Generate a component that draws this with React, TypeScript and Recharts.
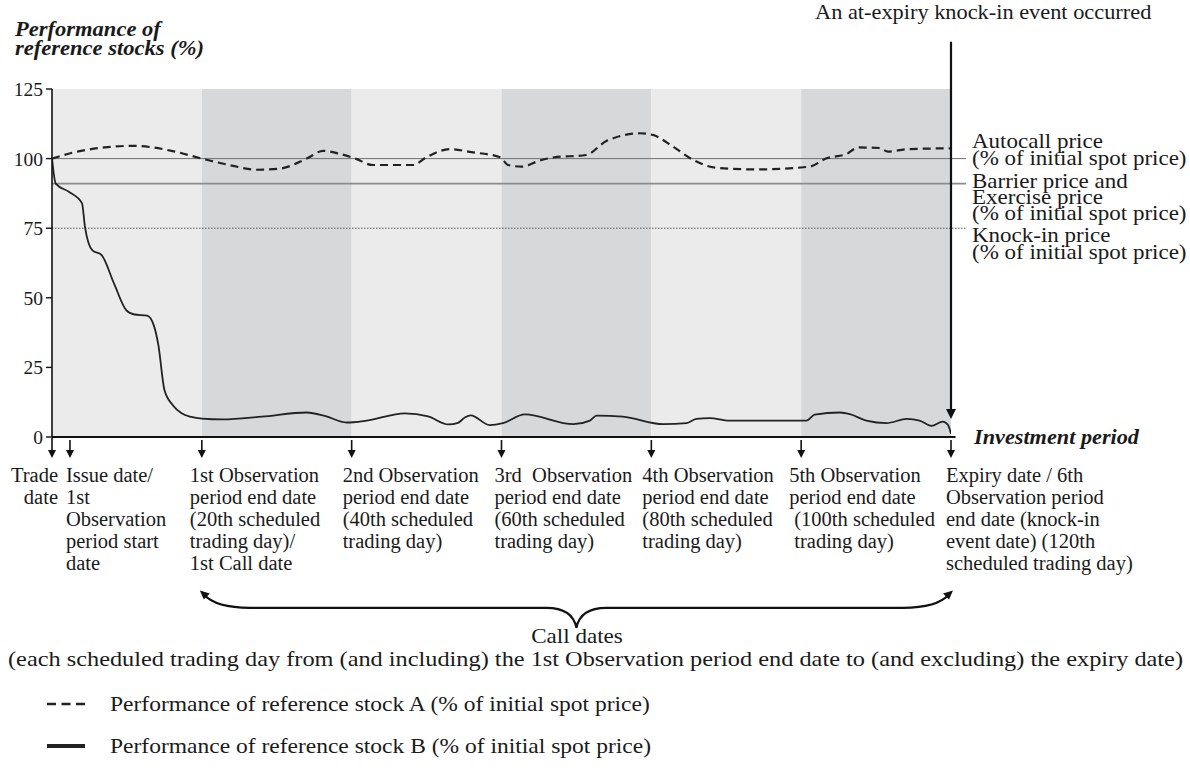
import React from 'react';
import { LineChart, Line, XAxis, YAxis, ReferenceArea, ReferenceLine } from 'recharts';

const FONT = '"Liberation Serif", "Times New Roman", serif';
const INK = '#1a1a1a';

// ---- data ----
const stockADays = [0, 3.7, 7, 10.8, 13.5, 16.1, 20.6, 24, 27.3, 30.4, 34, 36.2, 38.4, 40.5, 42.8, 48.2, 50, 53.1, 56, 59.8, 60.9, 62.7, 65.1, 66.9, 71.3, 74, 78.5, 80.2, 82.9, 85.6, 88.7, 94, 101.1, 103.4, 106.1, 107.6, 110.5, 111.6, 114.1, 120];
const stockAPerf = [100, 102.7, 104, 104.6, 104, 102.7, 99.6, 97.5, 96, 96.4, 100, 102.8, 101.7, 100, 97.7, 97.7, 100.5, 103.4, 102.3, 100.5, 97.7, 97.1, 99.3, 100.4, 101.3, 106.3, 109.1, 108.5, 104.3, 99.5, 96.7, 96.1, 97.1, 100.1, 101.7, 104, 103.8, 102.5, 103.4, 103.7];

const stockBDays = [0, 0.5, 2.3, 4.0, 4.4, 5.4, 6.6, 8.3, 9.9, 11.0, 12.7, 13.6, 14.2, 15.0, 16.1, 17.3, 18.6, 20, 22.8, 28, 34, 36.5, 39.3, 42, 47.1, 50.2, 52.9, 54.2, 55.1, 55.9, 58.4, 60.2, 63.1, 69.6, 71.8, 72.7, 76.2, 81.6, 84.7, 86, 87.8, 90.4, 100.7, 101.8, 105.2, 106.5, 108.7, 111.4, 114.1, 115.8, 117.4, 118.9, 119.6, 120];
const stockBPerf = [100, 91, 88, 84, 75.5, 67, 65.4, 55, 45.6, 44, 43.6, 40, 33, 17, 11.5, 8.5, 7.2, 6.6, 6.3, 7.3, 8.8, 7.5, 5.2, 5.9, 8.5, 7.4, 4.5, 5.1, 7.0, 7.8, 4.3, 5.0, 8.1, 4.6, 5.9, 7.7, 7.3, 4.6, 5.0, 6.5, 6.8, 5.9, 5.9, 8.0, 8.8, 8.2, 5.9, 5.0, 6.5, 5.9, 4.0, 5.5, 4.3, 1.2];

const tickDays = [0, 2.4, 20, 40, 60, 80, 100, 120];
const tickLabels = [
  ['Trade', 'date'],
  ['Issue date/', '1st', 'Observation', 'period start', 'date'],
  ['1st Observation', 'period end date', '(20th scheduled', 'trading day)/', '1st Call date'],
  ['2nd Observation', 'period end date', '(40th scheduled', 'trading day)'],
  ['3rd\u00a0 Observation', 'period end date', '(60th scheduled', 'trading day)'],
  ['4th Observation', 'period end date', '(80th scheduled', 'trading day)'],
  ['5th Observation', 'period end date', '\u00a0(100th scheduled', '\u00a0trading day)'],
  ['Expiry date / 6th', 'Observation period', 'end date (knock-in', 'event date) (120th', 'scheduled trading day)'],
];

const yTicks = [0, 25, 50, 75, 100, 125];
const periodStarts = [0, 20, 40, 60, 80, 100];
const periodEnds = [20, 40, 60, 80, 100, 120];

const autocallLevel = 100;
const barrierLevel = 91;
const knockInLevel = 75;

const rightLabels = [
  'Autocall price', '(% of initial spot price)',
  'Barrier price and', 'Exercise price', '(% of initial spot price)',
  'Knock-in price', '(% of initial spot price)',
];
const legendLabels = [
  'Performance of reference stock A (% of initial spot price)',
  'Performance of reference stock B (% of initial spot price)',
];

const stockA = stockADays.map((d, i) => ({ day: d, a: stockAPerf[i] }));
const stockB = stockBDays.map((d, i) => ({ day: d, b: stockBPerf[i] }));

// ---- layout (styles only) ----
const tickLayout = [
  { anchor: 'end', dx: 6 },
  { anchor: 'start', dx: -4 },
  { anchor: 'start', dx: -12 },
  { anchor: 'start', dx: -9 },
  { anchor: 'start', dx: -7 },
  { anchor: 'start', dx: -9 },
  { anchor: 'start', dx: -12 },
  { anchor: 'start', dx: -5 },
];
const rightLabelY = [148, 165, 188, 203.5, 220, 242, 258.5];

const XTick = (props: any) => {
  const { x, y, payload } = props;
  const i = tickDays.indexOf(payload.value);
  if (i < 0) return null;
  const lines = tickLabels[i];
  const lay = tickLayout[i];
  const top = i === 0 ? y + 1 : y + 3;
  return (
    <g>
      <line x1={x} y1={top} x2={x} y2={y + 14} stroke="#111" strokeWidth={1.6} />
      <path d={`M${x - 4},${y + 13} L${x + 4},${y + 13} L${x},${y + 21} Z`} fill="#111" />
      <text fontFamily={FONT} fontSize={20.5} fill={INK} textAnchor={lay.anchor}>
        {lines.map((l, k) => (
          <tspan key={k} x={x + lay.dx} y={y + 45 + k * 22.1}>{l}</tspan>
        ))}
      </text>
    </g>
  );
};

const BraceShape = (props: any) => {
  const { x, y, width, height } = props;
  const x1 = x, x2 = x + width, mid = x + width / 2;
  const top = y, bar = y + height * 0.45, tip = y + height;
  const d = `M${x1 + 2},${top + 3} Q${x1 + 14},${bar} ${x1 + 48},${bar} L${mid - 30},${bar} Q${mid - 4},${bar} ${mid},${tip} Q${mid + 4},${bar} ${mid + 30},${bar} L${x2 - 48},${bar} Q${x2 - 14},${bar} ${x2 - 2},${top + 3}`;
  return (
    <g>
      <path d={d} fill="none" stroke="#111" strokeWidth={2.2} />
      <path d={`M${x1 - 2},${top - 1} L${x1 + 8},${top + 2} L${x1 + 2},${top + 8} Z`} fill="#111" />
      <path d={`M${x2 + 2},${top - 1} L${x2 - 8},${top + 2} L${x2 - 2},${top + 8} Z`} fill="#111" />
    </g>
  );
};

const ArrowShape = (props: any) => {
  const { x1, y1, x2, y2 } = props;
  return (
    <g>
      <line x1={x1} y1={y1} x2={x2} y2={y2 - 8} stroke="#111" strokeWidth={2.2} />
      <path d={`M${x2 - 5},${y2 - 10} L${x2 + 5},${y2 - 10} L${x2},${y2} Z`} fill="#111" />
    </g>
  );
};

const T = ({ x, y, size, sx = 1, anchor = 'start', bold = false, italic = false, children }: any) => (
  <text
    transform={`translate(${x},${y}) scale(${sx},1)`}
    fontFamily={FONT}
    fontSize={size}
    textAnchor={anchor}
    fontWeight={bold ? 'bold' : 'normal'}
    fontStyle={italic ? 'italic' : 'normal'}
    fill={INK}
  >
    {children}
  </text>
);

export default function App() {
  return (
    <div style={{ position: 'absolute', left: 0, top: 0, width: 1190, height: 772, background: '#fff' }}>
      <div style={{ position: 'absolute', left: 0, top: 0 }}>
        <LineChart width={1190} height={772} margin={{ top: 89, right: 239, bottom: 305, left: 12 }}>
          <XAxis
            type="number"
            dataKey="day"
            domain={[0, 120]}
            ticks={tickDays}
            interval={0}
            allowDataOverflow
            axisLine={false}
            tickLine={false}
            tickSize={0}
            tickMargin={0}
            height={30}
            tick={<XTick />}
          />
          <YAxis
            type="number"
            domain={[0, 125]}
            ticks={yTicks}
            interval={0}
            width={40}
            tickSize={6}
            tickMargin={3}
            axisLine={{ stroke: '#111', strokeWidth: 1.6 }}
            tickLine={{ stroke: '#111', strokeWidth: 1.4 }}
            tick={{ fontFamily: FONT, fontSize: 19.5, fill: INK }}
          />
          {periodStarts.map((s, i) => (
            <ReferenceArea
              key={`band-${i}`}
              x1={s}
              x2={periodEnds[i]}
              y1={0}
              y2={125}
              fill={i % 2 === 0 ? '#ebebeb' : '#d7d8da'}
              fillOpacity={1}
              stroke="none"
              ifOverflow="visible"
            />
          ))}
          <ReferenceLine segment={[{ x: 0, y: autocallLevel }, { x: 122, y: autocallLevel }]} stroke="#707070" strokeWidth={1} ifOverflow="visible" />
          <ReferenceLine segment={[{ x: 0, y: barrierLevel }, { x: 122, y: barrierLevel }]} stroke="#8c8c8c" strokeWidth={1.8} ifOverflow="visible" />
          <ReferenceLine segment={[{ x: 0, y: knockInLevel }, { x: 122, y: knockInLevel }]} stroke="#555" strokeWidth={1} strokeDasharray="1.5 1.5" ifOverflow="visible" />
          <ReferenceLine segment={[{ x: 0, y: 0 }, { x: 120.6, y: 0 }]} stroke="#111" strokeWidth={1.8} ifOverflow="visible" />
          <Line data={stockA} dataKey="a" type="monotone" stroke="#222" strokeWidth={2.2} strokeDasharray="8 5" dot={false} activeDot={false} isAnimationActive={false} />
          <Line data={stockB} dataKey="b" type="monotone" stroke="#222" strokeWidth={1.8} dot={false} activeDot={false} isAnimationActive={false} />
          <ReferenceLine segment={[{ x: 120, y: 142 }, { x: 120, y: 6.5 }]} ifOverflow="visible" shape={<ArrowShape />} />
          <ReferenceArea x1={20} x2={120} y1={-68.5} y2={-55.5} ifOverflow="visible" shape={<BraceShape />} />
        </LineChart>
      </div>
      <svg width={1190} height={772} style={{ position: 'absolute', left: 0, top: 0, pointerEvents: 'none' }}>
        <T x={15} y={36} size={20.5} sx={1.1} bold italic>Performance of</T>
        <T x={15} y={54.5} size={20.5} sx={1.1} bold italic>reference stocks (%)</T>
        <T x={815} y={19} size={21.5} sx={1.04}>An at-expiry knock-in event occurred</T>
        {rightLabels.map((l, i) => (
          <T key={i} x={972} y={rightLabelY[i]} size={21.5} sx={1.07}>{l}</T>
        ))}
        <T x={974} y={444} size={21} sx={1.06} bold italic>Investment period</T>
        <T x={577} y={643} size={21} sx={1.1} anchor="middle">Call dates</T>
        <text x={595.5} y={666} fontFamily={FONT} fontSize={21} fill={INK} textAnchor="middle" textLength={1175} lengthAdjust="spacingAndGlyphs">
          (each scheduled trading day from (and including) the 1st Observation period end date to (and excluding) the expiry date)
        </text>
        <line x1={47} y1={704} x2={85} y2={704} stroke="#222" strokeWidth={2.5} strokeDasharray="9 5.5" />
        <T x={110} y={711} size={21} sx={1.12}>{legendLabels[0]}</T>
        <line x1={47} y1={746} x2={85} y2={746} stroke="#222" strokeWidth={4} />
        <T x={110} y={753} size={21} sx={1.12}>{legendLabels[1]}</T>
      </svg>
    </div>
  );
}
